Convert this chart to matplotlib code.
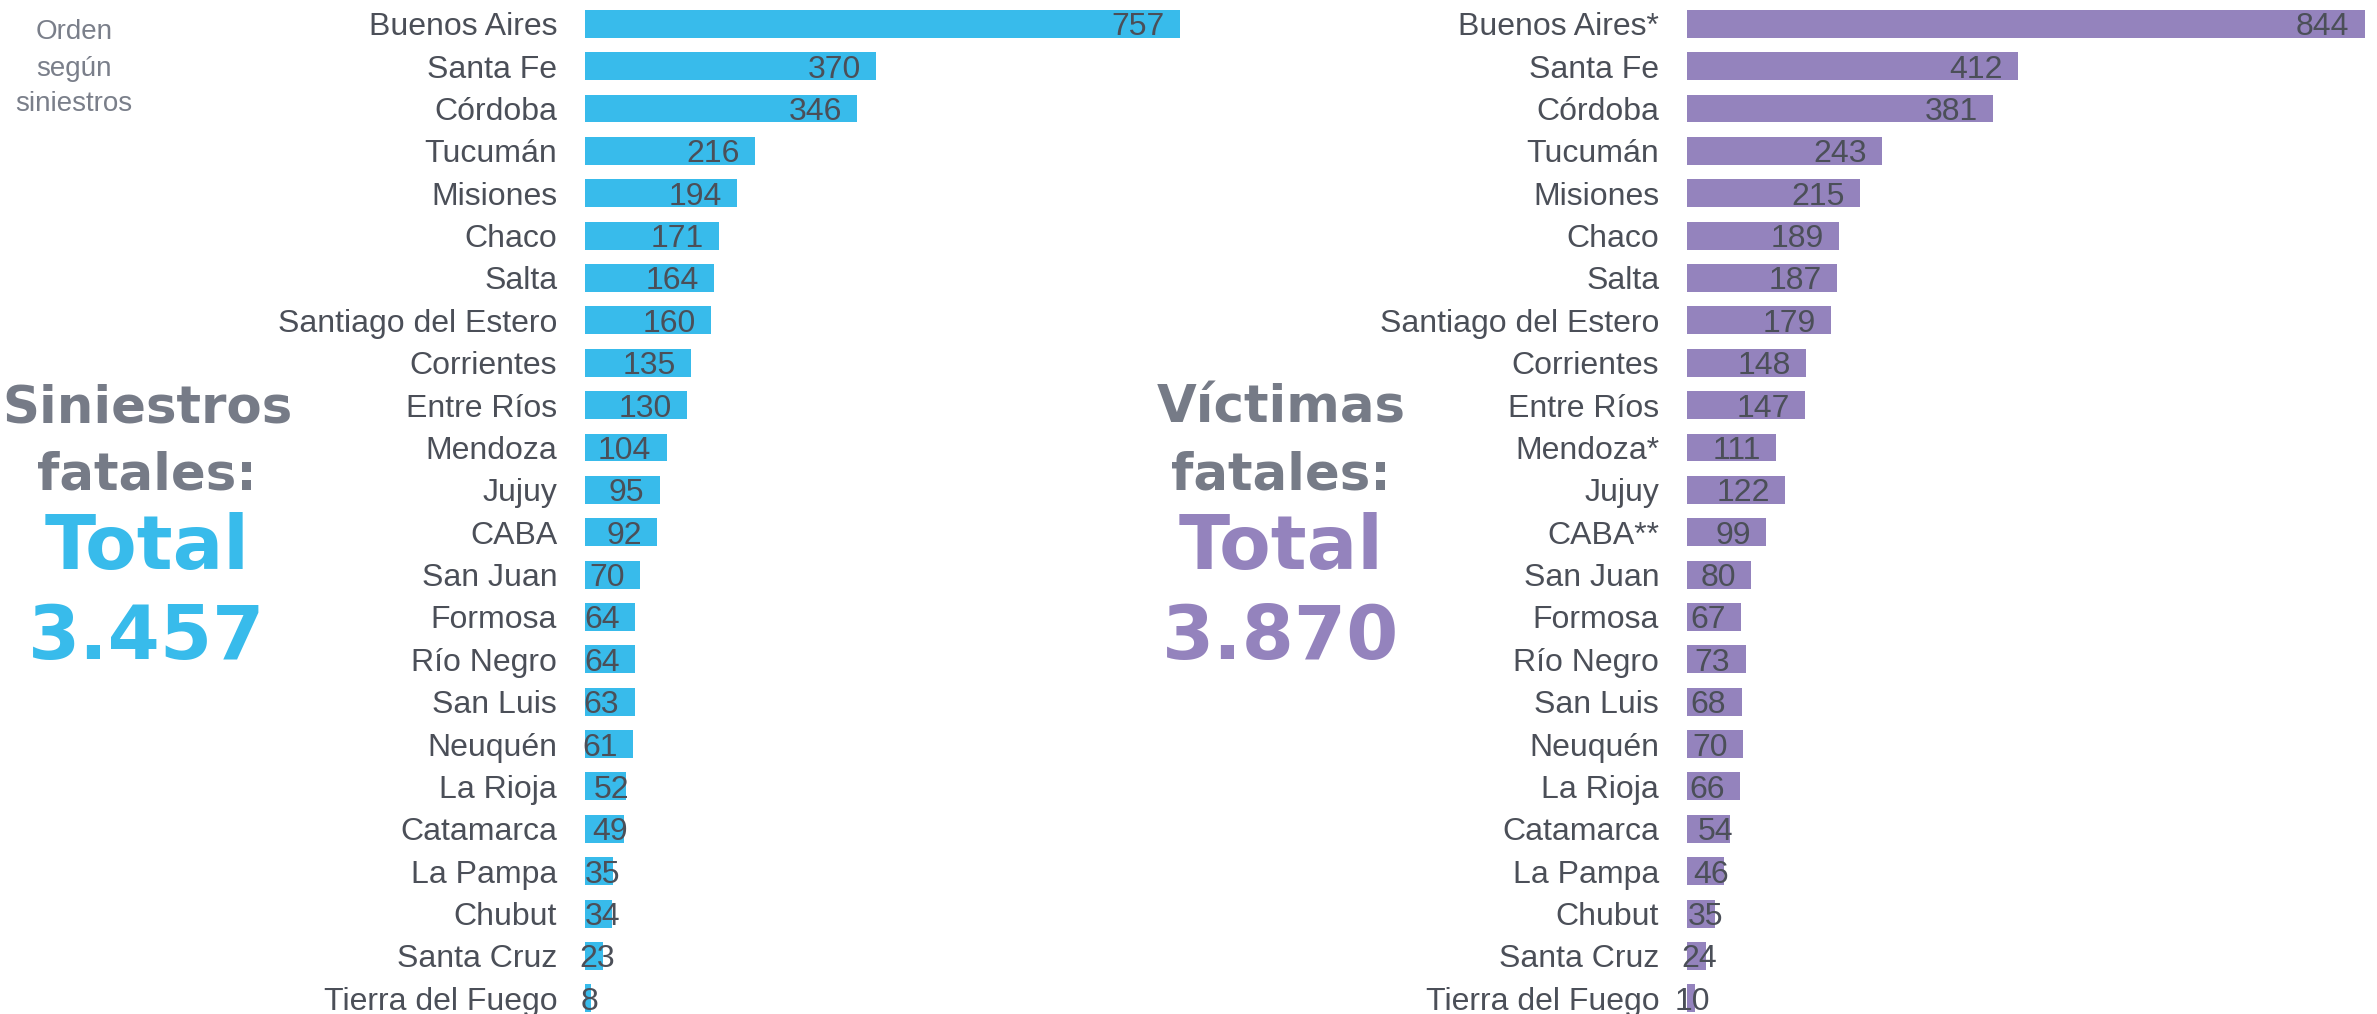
import matplotlib
matplotlib.use("Agg")
import matplotlib.pyplot as plt

provincias = ["Buenos Aires", "Santa Fe", "Córdoba", "Tucumán", "Misiones", "Chaco",
              "Salta", "Santiago del Estero", "Corrientes", "Entre Ríos", "Mendoza",
              "Jujuy", "CABA", "San Juan", "Formosa", "Río Negro", "San Luis",
              "Neuquén", "La Rioja", "Catamarca", "La Pampa", "Chubut", "Santa Cruz",
              "Tierra del Fuego"]
provincias_vict = ["Buenos Aires*", "Santa Fe", "Córdoba", "Tucumán", "Misiones", "Chaco",
                   "Salta", "Santiago del Estero", "Corrientes", "Entre Ríos", "Mendoza*",
                   "Jujuy", "CABA**", "San Juan", "Formosa", "Río Negro", "San Luis",
                   "Neuquén", "La Rioja", "Catamarca", "La Pampa", "Chubut", "Santa Cruz",
                   "Tierra del Fuego"]
siniestros = [757, 370, 346, 216, 194, 171, 164, 160, 135, 130, 104, 95, 92, 70, 64,
              64, 63, 61, 52, 49, 35, 34, 23, 8]
victimas = [844, 412, 381, 243, 215, 189, 187, 179, 148, 147, 111, 122, 99, 80, 67,
            73, 68, 70, 66, 54, 46, 35, 24, 10]

AZUL = "#38BBEB"
VIOLETA = "#9483BD"
GRIS_TXT = "#4B4F58"
GRIS_TIT = "#767B87"

plt.rcParams["font.family"] = ["Liberation Sans", "DejaVu Sans"]

W, H = 2377, 1014
fig = plt.figure(figsize=(W / 100, H / 100), dpi=100)


def panel(left_px, xmax, px_per_unit, labels, values, color):
    width_px = xmax * px_per_unit
    ax = fig.add_axes([left_px / W, 0, width_px / W, 1011 / H])
    y = list(range(len(values)))
    ax.barh(y, values, height=0.66, color=color)
    ax.set_xlim(0, xmax)
    ax.set_ylim(len(values) - 1 + 0.37, -0.49)
    ax.set_yticks(y)
    ax.set_yticklabels(labels, fontsize=23, color=GRIS_TXT)
    ax.tick_params(axis="y", length=0, pad=20)
    ax.set_xticks([])
    for s in ax.spines.values():
        s.set_visible(False)
    for yi, v in zip(y, values):
        if v >= 60:
            ax.annotate(str(v), (v, yi), xytext=(-11, 0), textcoords="offset points",
                        ha="right", va="center_baseline", fontsize=23, color=GRIS_TXT)
        else:
            ax.text(v * 0.65, yi, str(v), ha="center", va="center_baseline",
                    fontsize=23, color=GRIS_TXT)
    return ax


panel(585, 800, 0.786, provincias, siniestros, AZUL)
panel(1687, 850, 0.803, provincias_vict, victimas, VIOLETA)

big = ["DejaVu Sans"]
fig.text(74 / W, 1 - 32 / H, "Orden", ha="center", va="center", fontsize=20, color="#7A7F8A")
fig.text(74 / W, 1 - 69 / H, "según", ha="center", va="center", fontsize=20, color="#7A7F8A")
fig.text(74 / W, 1 - 104 / H, "siniestros", ha="center", va="center", fontsize=20, color="#7A7F8A")

for cx, t1, tot, col in [(147, "Siniestros", "3.457", AZUL), (1281, "Víctimas", "3.870", VIOLETA)]:
    fig.text(cx / W, 1 - 408 / H, t1, ha="center", va="center", fontsize=37,
             fontweight="bold", color=GRIS_TIT, family=big)
    fig.text(cx / W, 1 - 475 / H, "fatales:", ha="center", va="center", fontsize=37,
             fontweight="bold", color=GRIS_TIT, family=big)
    fig.text(cx / W, 1 - 549 / H, "Total", ha="center", va="center", fontsize=54,
             fontweight="bold", color=col, family=big)
    fig.text(cx / W, 1 - 639 / H, tot, ha="center", va="center", fontsize=54,
             fontweight="bold", color=col, family=big)

fig.savefig("out.png", dpi=100)
